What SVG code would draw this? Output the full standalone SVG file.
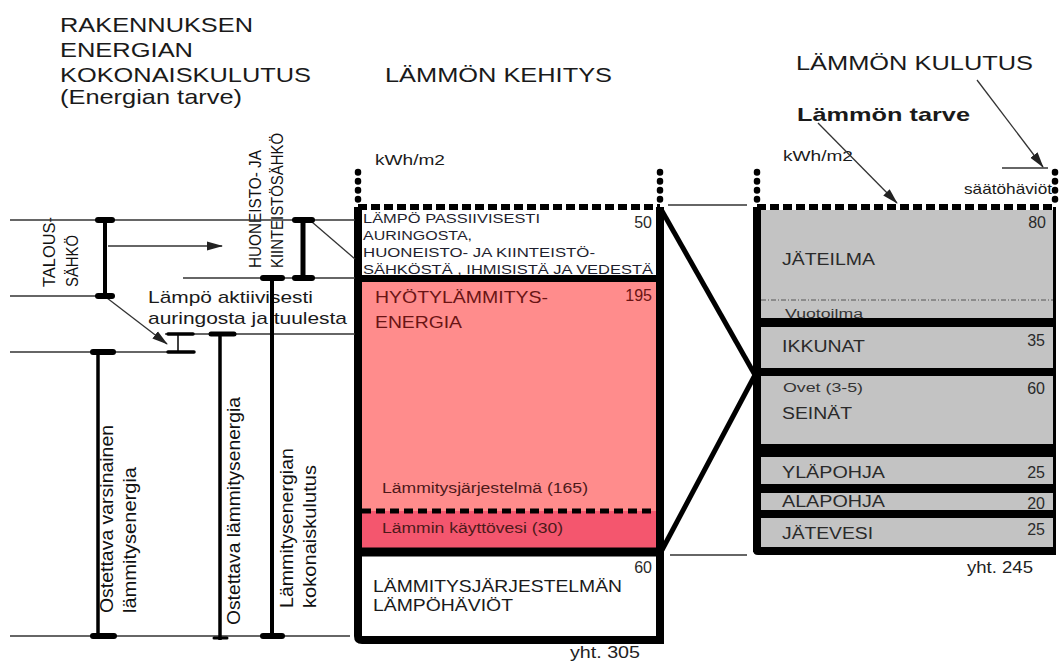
<svg xmlns="http://www.w3.org/2000/svg" width="1059" height="664" viewBox="0 0 1059 664">
<defs>
<marker id="arr" markerWidth="16" markerHeight="10" refX="15" refY="5" orient="auto" markerUnits="userSpaceOnUse"><path d="M0,0.5 L16,5 L0,9.5 z" fill="#222"/></marker>
</defs>
<style>
text{font-family:"Liberation Sans",Arial,sans-serif;fill:#1a1a1a}
.t{font-size:21px;fill:#1a1a1a}
.thin{stroke:#333;stroke-width:1.3;fill:none}
.blk{stroke:#000;fill:none}
.cap{stroke:#000;stroke-linecap:round}
.dash{stroke:#000;stroke-width:6;stroke-dasharray:9 4;fill:none}
.dots{stroke:#000;stroke-width:6.5;stroke-dasharray:0.5 8.5;stroke-linecap:round;fill:none}
.sm{font-size:12.5px;fill:#1e1e2e}
.lab{font-size:16px;fill:#2a2a2a}
.num{font-size:16px;fill:#2a2a2a;text-anchor:end}
.rot{font-size:18px;fill:#111}
.rs{font-size:16.5px;fill:#111}
.gray{fill:#c3c3c3}
.sep{fill:#000}
</style>
<rect width="1059" height="664" fill="#fff"/>

<g id="titles">
<text class="t" x="60" y="32" textLength="193" lengthAdjust="spacingAndGlyphs">RAKENNUKSEN</text>
<text class="t" x="60" y="57" textLength="133" lengthAdjust="spacingAndGlyphs">ENERGIAN</text>
<text class="t" x="60" y="82" textLength="251" lengthAdjust="spacingAndGlyphs">KOKONAISKULUTUS</text>
<text class="t" x="60" y="104" textLength="182" lengthAdjust="spacingAndGlyphs">(Energian tarve)</text>
<text class="t" x="385" y="82" textLength="227" lengthAdjust="spacingAndGlyphs">LÄMMÖN KEHITYS</text>
<text class="t" x="796" y="70" textLength="237" lengthAdjust="spacingAndGlyphs">LÄMMÖN KULUTUS</text>
<text x="797" y="121" style="font-size:19px;font-weight:bold;fill:#1a1a1a" textLength="173" lengthAdjust="spacingAndGlyphs">Lämmön tarve</text>
<text x="375" y="165" style="font-size:15px" textLength="70" lengthAdjust="spacingAndGlyphs">kWh/m2</text>
<text x="783" y="161" style="font-size:15px" textLength="70" lengthAdjust="spacingAndGlyphs">kWh/m2</text>
<text x="964" y="194" style="font-size:15px" textLength="88" lengthAdjust="spacingAndGlyphs">säätöhäviöt</text>
</g>

<g id="left-labels">
<text x="148" y="303" style="font-size:17px" textLength="165" lengthAdjust="spacingAndGlyphs">Lämpö aktiivisesti</text>
<text x="148" y="324" style="font-size:17px" textLength="199" lengthAdjust="spacingAndGlyphs">auringosta ja tuulesta</text>
<text class="rs" transform="translate(55,287) rotate(-90)" textLength="70" lengthAdjust="spacingAndGlyphs">TALOUS-</text>
<text class="rs" transform="translate(78,287) rotate(-90)" textLength="52" lengthAdjust="spacingAndGlyphs">SÄHKÖ</text>
<text class="rs" transform="translate(261,268) rotate(-90)" textLength="118" lengthAdjust="spacingAndGlyphs">HUONEISTO- JA</text>
<text class="rs" transform="translate(283,268) rotate(-90)" textLength="135" lengthAdjust="spacingAndGlyphs">KIINTEISTÖSÄHKÖ</text>
<text class="rot" transform="translate(113,613) rotate(-90)" textLength="188" lengthAdjust="spacingAndGlyphs">Ostettava varsinainen</text>
<text class="rot" transform="translate(136,613) rotate(-90)" textLength="146" lengthAdjust="spacingAndGlyphs">lämmitysenergia</text>
<text class="rot" transform="translate(240,625) rotate(-90)" textLength="228" lengthAdjust="spacingAndGlyphs">Ostettava lämmitysenergia</text>
<text class="rot" transform="translate(293,608) rotate(-90)" textLength="160" lengthAdjust="spacingAndGlyphs">Lämmitysenergian</text>
<text class="rot" transform="translate(316,608) rotate(-90)" textLength="143" lengthAdjust="spacingAndGlyphs">kokonaiskulutus</text>
</g>

<g id="middle-column">
<g id="passive-heat">
<rect x="358" y="207" width="302" height="72" fill="#fff"/>
<text class="sm" x="363" y="223" textLength="177" lengthAdjust="spacingAndGlyphs">LÄMPÖ PASSIIVISESTI</text>
<text class="sm" x="363" y="240" textLength="109" lengthAdjust="spacingAndGlyphs">AURINGOSTA,</text>
<text class="sm" x="363" y="257" textLength="232" lengthAdjust="spacingAndGlyphs">HUONEISTO-  JA KIINTEISTÖ-</text>
<text class="sm" x="363" y="274" textLength="290" lengthAdjust="spacingAndGlyphs">SÄHKÖSTÄ , IHMISISTÄ JA VEDESTÄ</text>
<text class="num" x="652" y="228">50</text>
</g>
<g id="useful-heating">
<rect x="358" y="279" width="302" height="232" fill="#ff8c8c"/>
<text x="375" y="303" style="font-size:17px;fill:#6a1414" textLength="173" lengthAdjust="spacingAndGlyphs">HYÖTYLÄMMITYS-</text>
<text x="375" y="328" style="font-size:17px;fill:#6a1414" textLength="87" lengthAdjust="spacingAndGlyphs">ENERGIA</text>
<text class="num" x="652" y="301" style="fill:#6a1414">195</text>
<text x="382" y="493" style="font-size:14px;fill:#4d1a1a" textLength="206" lengthAdjust="spacingAndGlyphs">Lämmitysjärjestelmä (165)</text>
</g>
<g id="hot-water">
<rect x="358" y="511" width="302" height="41" fill="#f4566e"/>
<text x="382" y="533" style="font-size:14px;fill:#4d1a1a" textLength="181" lengthAdjust="spacingAndGlyphs">Lämmin käyttövesi (30)</text>
</g>
<g id="system-losses">
<rect x="358" y="552" width="302" height="87" fill="#fff"/>
<text class="num" x="652" y="573">60</text>
<text x="373" y="592" style="font-size:17px;fill:#1a1a1a" textLength="249" lengthAdjust="spacingAndGlyphs">LÄMMITYSJÄRJESTELMÄN</text>
<text x="373" y="611" style="font-size:17px;fill:#1a1a1a" textLength="140" lengthAdjust="spacingAndGlyphs">LÄMPÖHÄVIÖT</text>
<text x="570" y="658" style="font-size:16px;fill:#222" textLength="70" lengthAdjust="spacingAndGlyphs">yht. 305</text>
</g>
<g id="middle-frame">
<path class="blk" d="M358,207 V636 Q358,640 362,640 H660 V207" stroke-width="8"/>
<line class="blk" x1="358" y1="278.5" x2="660" y2="278.5" stroke-width="7"/>
<line class="blk" x1="358" y1="552" x2="660" y2="552" stroke-width="9"/>
<line x1="362" y1="511" x2="656" y2="511" stroke="#000" stroke-width="5" stroke-dasharray="9 5"/>
<line class="dash" x1="358" y1="207" x2="660" y2="207"/>
<line class="dots" x1="358" y1="172" x2="358" y2="203"/>
<line class="dots" x1="660" y1="172" x2="660" y2="203"/>
</g>
</g>

<g id="right-column">
<g id="jateilma">
<rect class="gray" x="761" y="210" width="292" height="108"/>
<line x1="761" y1="300" x2="1053" y2="300" stroke="#555" stroke-width="1" stroke-dasharray="5 2 1 2"/>
<text class="num" x="1046" y="228">80</text>
<text class="lab" x="782" y="265" textLength="93" lengthAdjust="spacingAndGlyphs">JÄTEILMA</text>
<text x="785" y="318" style="font-size:12px;fill:#333" textLength="78" lengthAdjust="spacingAndGlyphs">Vuotoilma</text>
</g>
<g id="ikkunat">
<rect class="gray" x="761" y="327" width="292" height="41"/>
<text class="num" x="1045" y="346">35</text>
<text class="lab" x="782" y="352" textLength="83" lengthAdjust="spacingAndGlyphs">IKKUNAT</text>
</g>
<g id="seinat">
<rect class="gray" x="761" y="376" width="292" height="68"/>
<text x="783" y="392" style="font-size:12px;fill:#333" textLength="80" lengthAdjust="spacingAndGlyphs">Ovet  (3-5)</text>
<text class="num" x="1045" y="394">60</text>
<text class="lab" x="782" y="419" textLength="70" lengthAdjust="spacingAndGlyphs">SEINÄT</text>
</g>
<g id="ylapohja">
<rect class="gray" x="761" y="457" width="292" height="27"/>
<text class="lab" x="782" y="478" textLength="103" lengthAdjust="spacingAndGlyphs">YLÄPOHJA</text>
<text class="num" x="1045" y="478">25</text>
</g>
<g id="alapohja">
<rect class="gray" x="761" y="493" width="292" height="17"/>
<text class="lab" x="782" y="507" textLength="103" lengthAdjust="spacingAndGlyphs">ALAPOHJA</text>
<text class="num" x="1045" y="509">20</text>
</g>
<g id="jatevesi">
<rect class="gray" x="761" y="518" width="292" height="29"/>
<text class="lab" x="782" y="539" textLength="91" lengthAdjust="spacingAndGlyphs">JÄTEVESI</text>
<text class="num" x="1045" y="535">25</text>
</g>
<g id="right-frame">
<rect class="sep" x="753" y="318" width="303" height="9"/>
<rect class="sep" x="753" y="368" width="303" height="8"/>
<rect class="sep" x="753" y="444" width="303" height="13"/>
<rect class="sep" x="753" y="484" width="303" height="9"/>
<rect class="sep" x="753" y="510" width="303" height="8"/>
<path class="sep" d="M753,547 H1056 V555 H758 Q753,555 753,550 z"/>
<line class="blk" x1="757" y1="207" x2="757" y2="552" stroke-width="8"/>
<line class="blk" x1="1054.5" y1="207" x2="1054.5" y2="555" stroke-width="3"/>
<line class="dash" x1="757" y1="207" x2="1056" y2="207"/>
<line class="dots" x1="757" y1="172" x2="757" y2="203"/>
<line class="dots" x1="1055" y1="172" x2="1055" y2="203"/>
<text x="967" y="573" style="font-size:16px;fill:#222" textLength="66" lengthAdjust="spacingAndGlyphs">yht. 245</text>
</g>
</g>

<g id="connectors">
<line class="thin" x1="10" y1="220" x2="355" y2="220"/>
<line class="thin" x1="108" y1="246" x2="222" y2="246" marker-end="url(#arr)"/>
<line class="thin" x1="183" y1="278" x2="355" y2="278"/>
<line class="thin" x1="10" y1="296" x2="100" y2="296"/>
<line class="thin" x1="165" y1="334" x2="355" y2="334"/>
<line class="thin" x1="10" y1="352" x2="195" y2="352"/>
<line class="thin" x1="10" y1="636" x2="350" y2="636"/>
<line class="thin" x1="107" y1="298" x2="167" y2="344" marker-end="url(#arr)"/>
<line class="thin" x1="312" y1="222" x2="355" y2="259"/>
<line class="thin" x1="668" y1="205" x2="747" y2="205"/>
<line class="thin" x1="670" y1="555" x2="747" y2="555"/>
<line class="thin" x1="1002" y1="168" x2="1048" y2="168"/>
<line class="thin" x1="977" y1="80" x2="1043" y2="167" marker-end="url(#arr)"/>
<line class="thin" x1="818" y1="123" x2="897" y2="203" marker-end="url(#arr)"/>
<line class="blk" x1="662" y1="211" x2="755" y2="375" stroke-width="5"/>
<line class="blk" x1="662" y1="550" x2="755" y2="375" stroke-width="5"/>
<line class="blk" x1="105" y1="220" x2="105" y2="296" stroke-width="4"/>
<line class="cap" x1="98" y1="220" x2="112" y2="220" stroke-width="6"/>
<line class="cap" x1="98" y1="296" x2="112" y2="296" stroke-width="6"/>
<line class="blk" x1="303" y1="220" x2="303" y2="278" stroke-width="5"/>
<line class="cap" x1="295" y1="220" x2="312" y2="220" stroke-width="6"/>
<line class="cap" x1="295" y1="278" x2="312" y2="278" stroke-width="6"/>
<line class="blk" x1="272" y1="278" x2="272" y2="636" stroke-width="4"/>
<line class="cap" x1="263" y1="278" x2="282" y2="278" stroke-width="6"/>
<line class="cap" x1="263" y1="636" x2="282" y2="636" stroke-width="6"/>
<line class="blk" x1="220" y1="334" x2="220" y2="640" stroke-width="3.5"/>
<line class="cap" x1="211" y1="334" x2="234" y2="334" stroke-width="5"/>
<line class="cap" x1="214" y1="638" x2="227" y2="638" stroke-width="3"/>
<line class="blk" x1="98" y1="352" x2="98" y2="636" stroke-width="3.5"/>
<line class="cap" x1="93" y1="352" x2="113" y2="352" stroke-width="6"/>
<line class="cap" x1="93" y1="636" x2="114" y2="636" stroke-width="6"/>
<line class="blk" x1="178" y1="334" x2="178" y2="352" stroke-width="1.5"/>
<line class="cap" x1="168" y1="334" x2="193" y2="334" stroke-width="3.5"/>
<line class="cap" x1="168" y1="352" x2="194" y2="352" stroke-width="3.5"/>
</g>
</svg>
